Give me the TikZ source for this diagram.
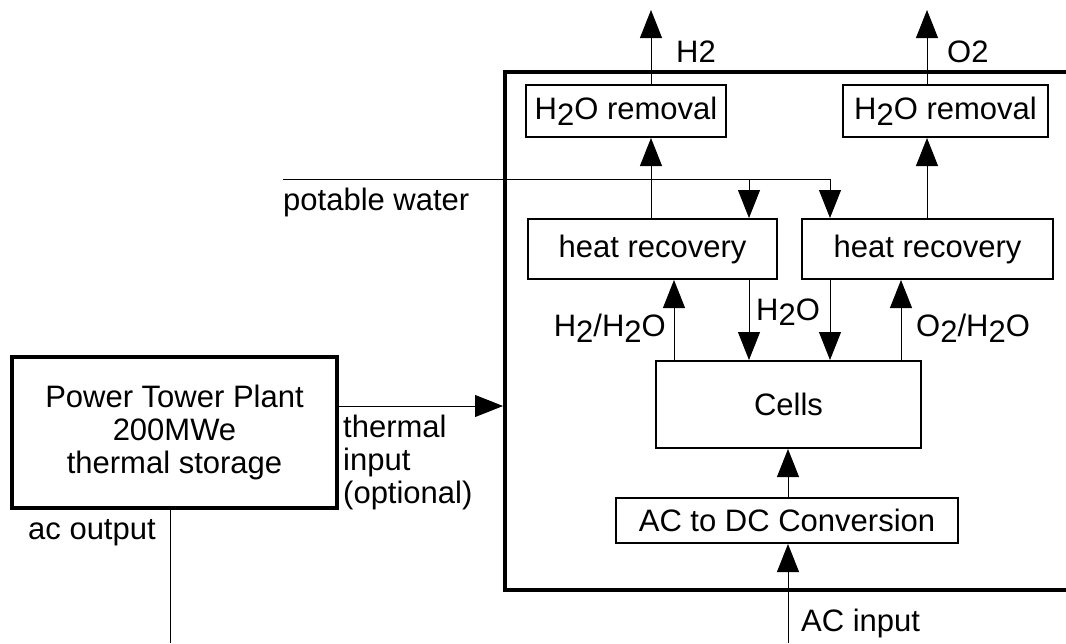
\documentclass[tikz,border=0pt]{standalone}
\usepackage{fontspec}
\setmainfont{Liberation Sans}
\usetikzlibrary{arrows.meta}
\newcommand{\lowr}[1]{\raisebox{-0.18em}{#1}}
\begin{document}
\begin{tikzpicture}[x=1pt,y=-1pt,
  every node/.style={font=\fontsize{31}{33}\selectfont},
  box/.style={draw, line width=2pt, inner sep=0pt, anchor=center},
  conn/.style={line width=0.9pt},
  arr/.style={conn, -{Triangle[length=28pt,width=22pt]}},
  lbl/.style={inner sep=0pt},
  bigline/.style={line width=4pt}]
\useasboundingbox (0,0) rectangle (1066,643);

% outer box
\draw[bigline] (1070,72) -- (505,72) -- (505,590) -- (1070,590);

% boxes
\node[box, minimum width=200pt, minimum height=52pt] (rem1) at (626,111) {H\lowr{2}O removal};
\node[box, minimum width=205pt, minimum height=52pt] (rem2) at (945.5,111) {H\lowr{2}O removal};
\node[box, minimum width=249pt, minimum height=60pt] (hr1) at (652.5,249) {heat recovery\hspace{16pt}};
\node[box, minimum width=251pt, minimum height=60pt] (hr2) at (927.5,249) {heat recovery\hspace{16pt}};
\node[box, minimum width=265pt, minimum height=87pt] (cells) at (788.5,404.5) {Cells};
\node[box, minimum width=342pt, minimum height=45pt] (acdc) at (787,520.5) {AC to DC Conversion};
\node[box, line width=3.5pt, minimum width=325pt, minimum height=151pt, align=center] (ptp) at (174.5,432.5) {Power Tower Plant\\200MWe\\thermal storage};

% coordinates
\coordinate (h2out) at (651,10);
\coordinate (o2out) at (927,10);
\coordinate (pw) at (283,179);
\coordinate (pwA) at (749,179);
\coordinate (pwB) at (830,179);
\coordinate (xa) at (674,0);
\coordinate (xb) at (901,0);
\coordinate (xc) at (788,0);
\coordinate (acin) at (788,643);
\coordinate (thin) at (503,406);
\coordinate (acout) at (170,643);

% connectors
\draw[arr] (rem1.north -| h2out) -- (h2out);
\draw[arr] (rem2.north -| o2out) -- (o2out);
\draw[arr] (hr1.north -| h2out) -- (rem1.south -| h2out);
\draw[arr] (hr2.north -| o2out) -- (rem2.south -| o2out);
\draw[conn] (pw) -- (pwB);
\draw[arr] (pwA) -- (pwA |- hr1.north);
\draw[arr] (pwB) -- (pwB |- hr2.north);
\draw[arr] (hr1.south -| pwA) -- (cells.north -| pwA);
\draw[arr] (hr2.south -| pwB) -- (cells.north -| pwB);
\draw[arr] (cells.north -| xa) -- (hr1.south -| xa);
\draw[arr] (cells.north -| xb) -- (hr2.south -| xb);
\draw[arr] (acdc.north -| xc) -- (cells.south -| xc);
\draw[arr] (acin) -- (acdc.south -| acin);
\draw[arr] (ptp.east |- thin) -- (thin);
\draw[conn] (ptp.south -| acout) -- (acout);

% labels
\node[lbl, anchor=west] (lh2) at (676,52) {H2};
\node[lbl, anchor=west] (lo2) at (947,52) {O2};
\node[lbl, anchor=west] (lpw) at (283,202) {potable water};
\node[lbl, anchor=east] (lh2h2o) at (666,328) {H\lowr{2}/H\lowr{2}O};
\node[lbl, anchor=west] (lh2o) at (756,312) {H\lowr{2}O};
\node[lbl, anchor=west] (lo2h2o) at (916,328) {O\lowr{2}/H\lowr{2}O};
\node[lbl, anchor=north west, align=left] (lth) at (343,415) {thermal\\input\\(optional)};
\node[lbl, anchor=west] (lacout) at (28,533) {ac output};
\node[lbl, anchor=west] (lacin) at (801,623) {AC input};
\end{tikzpicture}
\end{document}
